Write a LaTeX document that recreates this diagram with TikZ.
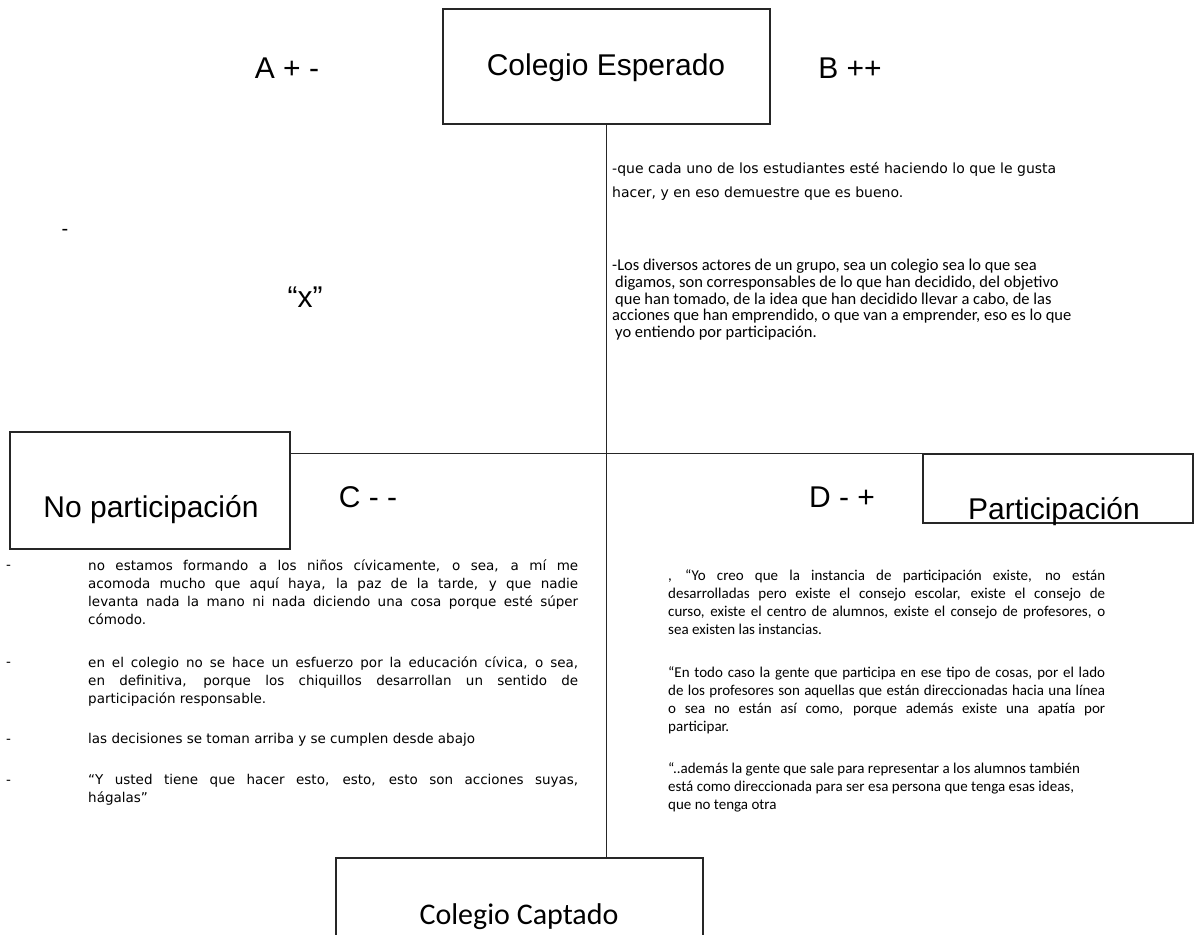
\documentclass[tikz,border=0pt]{standalone}
\usepackage{fontspec}
\setmainfont{Liberation Sans}
\newfontfamily\tahomafont{DejaVu Sans}
\newfontfamily\calibrifont{Carlito}
\usetikzlibrary{positioning}
\newcommand{\just}[2]{\makebox[#1][s]{#2}}

\begin{document}
\begin{tikzpicture}[x=1pt,y=-1pt,
    caja/.style={draw=black!85, line width=1.2pt, inner sep=0pt},
    titulo/.style={font=\fontsize{30}{34}\selectfont, inner sep=0pt},
    textoC/.style={anchor=north west, inner sep=0pt, align=left, font=\tahomafont\fontsize{13.5}{18}\selectfont},
    textoD/.style={anchor=north west, inner sep=0pt, align=left, font=\calibrifont\fontsize{15}{18}\selectfont}]
		\useasboundingbox (0,0) rectangle (1196,934);
		\clip (0,0) rectangle (1196,934);

		% Define boxes
		\node[caja, minimum width=327pt, minimum height=115pt] (esperado) at (606.5,66.5) {};
		\node[caja, minimum width=280pt, minimum height=117pt] (noparti) at (150,490.5) {};
		\node[caja, minimum width=270pt, minimum height=69pt] (parti) at (1058,488.5) {};
		\node[caja, minimum width=367pt, minimum height=122pt] (captado) at (519.5,919) {};

		% Draw the axes
		\draw[black!85, line width=1.2pt] (esperado.south) -- (esperado.south |- captado.north);
		\draw[black!85, line width=1.2pt] (noparti.east |- parti.north west) -- (parti.north west);

		% Label the boxes and quadrants
		\node[titulo] (tEsperado) at (606,68) {Colegio Esperado};
		\node[titulo] (tNo) at (151,510) {No participación};
		\node[titulo] (tParti) at (1054,512) {Participación};
		\node[titulo, font=\calibrifont\fontsize{30}{34}\selectfont] (tCaptado) at (519,917) {Colegio Captado};
		\node[titulo] (cuadA) at (287,68) {A + -};
		\node[titulo] (cuadB) at (850,68) {B ++};
		\node[titulo] (cuadC) at (368,497) {C - -};
		\node[titulo] (cuadD) at (842,497) {D - +};
		\node[font=\fontsize{20}{24}\selectfont, inner sep=0pt] (guionA) at (65,232) {-};
		\node[titulo] (equis) at (305,297) {“x”};

		% Quadrant B
		\node[textoC, font=\tahomafont\fontsize{14}{24}\selectfont] (textoB1) at (612,162)
		{-que cada uno de los estudiantes esté haciendo lo que le gusta\\
		 hacer, y en eso demuestre que es bueno.};
		\node[textoD, font=\calibrifont\fontsize{16.5}{16.7}\selectfont] (textoB2) at (612,259)
		{-Los diversos actores de un grupo, sea un colegio sea lo que sea\\
		 \hspace{3pt}digamos, son corresponsables de lo que han decidido, del objetivo\\
		 \hspace{3pt}que han tomado, de la idea que han decidido llevar a cabo, de las\\
		 acciones que han emprendido, o que van a emprender, eso es lo que\\
		 \hspace{3pt}yo entiendo por participación.};

		% Quadrant C
		\node[textoC] (textoC1) at (88,559)
		{\just{490pt}{no estamos formando a los niños cívicamente, o sea, a mí me}\\
		 \just{490pt}{acomoda mucho que aquí haya, la paz de la tarde, y que nadie}\\
		 \just{490pt}{levanta nada la mano ni nada diciendo una cosa porque esté súper}\\
		 cómodo.};
		\node[textoC] (textoC2) at (88,656)
		{\just{490pt}{en el colegio no se hace un esfuerzo por la educación cívica, o sea,}\\
		 \just{490pt}{en definitiva, porque los chiquillos desarrollan un sentido de}\\
		 participación responsable.};
		\node[textoC] (textoC3) at (88,733) {las decisiones se toman arriba y se cumplen desde abajo};
		\node[textoC] (textoC4) at (88,774)
		{\just{490pt}{“Y usted tiene que hacer esto, esto, esto son acciones suyas,}\\
		 hágalas”};
		\foreach \y/\n in {567/1,664/2,741/3,782/4}
			\node[textoC, anchor=west] (guionC\n) at (6,\y) {-};

		% Quadrant D
		\node[textoD] (textoD1) at (668,569)
		{\just{437pt}{, “Yo creo que la instancia de participación existe, no están}\\
		 \just{437pt}{desarrolladas pero existe el consejo escolar, existe el consejo de}\\
		 \just{437pt}{curso, existe el centro de alumnos, existe el consejo de profesores, o}\\
		 sea existen las instancias.};
		\node[textoD] (textoD2) at (668,666)
		{\just{437pt}{“En todo caso la gente que participa en ese tipo de cosas, por el lado}\\
		 \just{437pt}{de los profesores son aquellas que están direccionadas hacia una línea}\\
		 \just{437pt}{o sea no están así como, porque además existe una apatía por}\\
		 participar.};
		\node[textoD] (textoD3) at (668,762)
		{“..además la gente que sale para representar a los alumnos también\\
		 está como direccionada para ser esa persona que tenga esas ideas,\\
		 que no tenga otra};
	\end{tikzpicture}
\end{document}
